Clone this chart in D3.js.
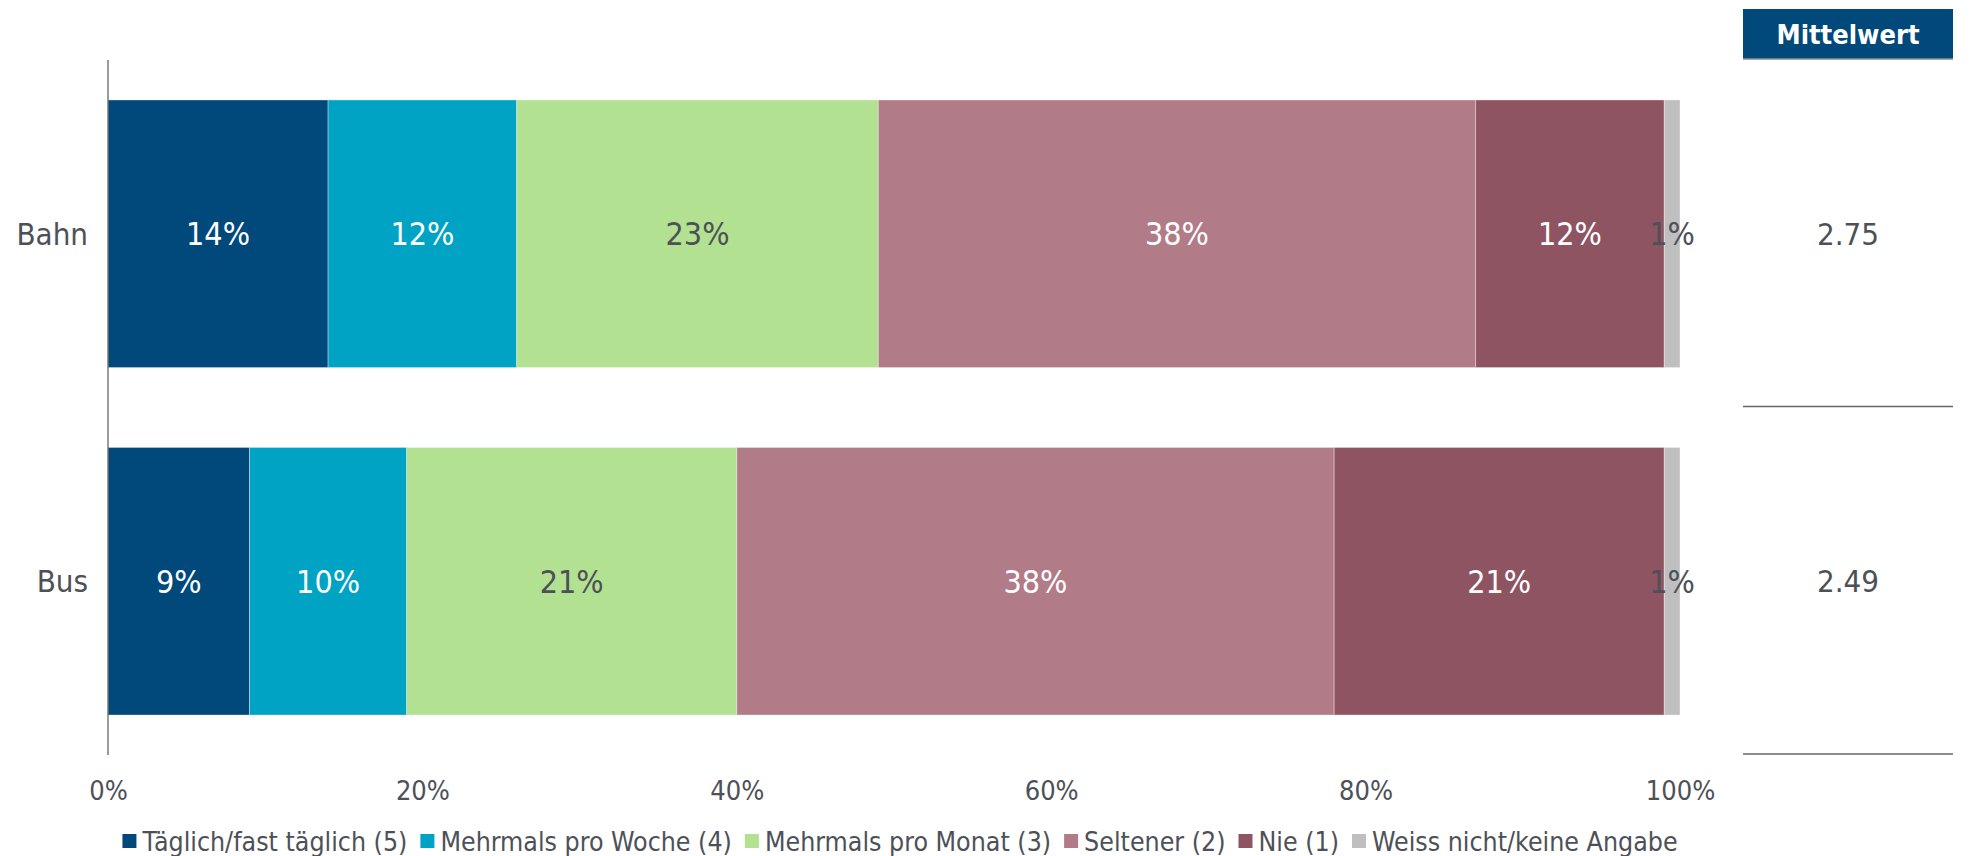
<!DOCTYPE html>
<html>
<head>
<meta charset="utf-8">
<script src="https://cdn.jsdelivr.net/npm/d3@7"></script>
<style>
  body { margin: 0; background: #fff; }
  svg text { font-family: "DejaVu Sans Condensed", "DejaVu Sans", sans-serif; font-stretch: condensed; }
</style>
</head>
<body>
<div id="chart"></div>
<script>
// data
const categories = ["Bahn", "Bus"]
const seriesNames = ["Täglich/fast täglich (5)", "Mehrmals pro Woche (4)", "Mehrmals pro Monat (3)", "Seltener (2)", "Nie (1)", "Weiss nicht/keine Angabe"]
const bahnValues = [14, 12, 23, 38, 12, 1]
const busValues = [9, 10, 21, 38, 21, 1]
const meanValues = ["2.75", "2.49"]
const xTicks = [0, 20, 40, 60, 80, 100]

const colors = ["#00497a", "#00a3c4", "#b2e192", "#b17c88", "#8f5462", "#bfbfbf"]
const labelColors = ["#fff", "#fff", "#4d5157", "#fff", "#fff", "#4d5157"]
const textGray = "#4d5157"

const width = 1975, height = 856

const svg = d3.select("#chart")
  .append("svg")
    .attr("width", width)
    .attr("height", height)

// build rows for the stack
const rows = categories.map((c, i) => {
  const vals = i === 0 ? bahnValues : busValues
  let row = {cat: c}
  seriesNames.forEach((s, j) => { row[s] = vals[j] })
  return row
})

const stack = d3.stack().keys(seriesNames)
const stacked = stack(rows)

const x = d3.scaleLinear()
    .domain([0, 100])
    .range([108, 1680])

const y = d3.scaleBand()
    .domain(categories)
    .range([60, 755])
    .paddingInner(0.23)
    .paddingOuter(0.115)

// bars
const layer = svg.append("g")
  .selectAll("g")
  .data(stacked)
  .join("g")
    .attr("fill", (d, i) => colors[i])

layer.selectAll("rect")
  .data(d => d)
  .join("rect")
    .attr("x", d => x(d[0]))
    .attr("y", d => y(d.data.cat))
    .attr("width", d => x(d[1]) - x(d[0]))
    .attr("height", y.bandwidth())
    .attr("stroke", "#ffffff")
    .attr("stroke-opacity", 0.35)
    .attr("stroke-width", 1)

// segment labels
stacked.forEach((s, i) => {
  svg.append("g")
    .selectAll("text")
    .data(s)
    .join("text")
      .attr("x", d => (x(d[0]) + x(d[1])) / 2)
      .attr("y", d => y(d.data.cat) + y.bandwidth() / 2)
      .attr("dy", "0.36em")
      .attr("text-anchor", "middle")
      .attr("fill", labelColors[i])
      .style("font-size", "32px")
      .text(d => (d[1] - d[0]) + "%")
})

// y axis line
svg.append("line")
  .attr("x1", x(0)).attr("x2", x(0))
  .attr("y1", 60).attr("y2", 755)
  .attr("stroke", "#666")
  .attr("stroke-width", 1.3)

// category labels
svg.append("g")
  .selectAll("text")
  .data(categories)
  .join("text")
    .attr("x", 88)
    .attr("y", d => y(d) + y.bandwidth() / 2)
    .attr("dy", "0.36em")
    .attr("text-anchor", "end")
    .attr("fill", textGray)
    .style("font-size", "31px")
    .text(d => d)

// x axis tick labels
const xAxis = d3.axisBottom(x)
  .tickValues(xTicks)
  .tickFormat(d => d + "%")
  .tickSize(0)
  .tickPadding(0)

const gx = svg.append("g")
  .attr("transform", "translate(0,790)")
  .call(xAxis)
gx.select(".domain").remove()
gx.selectAll("text")
  .attr("dy", "0.36em")
  .attr("fill", textGray)
  .style("font-size", "27px")
  .style("font-family", "\"DejaVu Sans Condensed\", \"DejaVu Sans\", sans-serif")

// Mittelwert column
const mx0 = 1743, mx1 = 1953, mcx = (mx0 + mx1) / 2
svg.append("rect")
  .attr("x", mx0).attr("y", 9)
  .attr("width", mx1 - mx0).attr("height", 50)
  .attr("fill", "#00497a")
svg.append("line")
  .attr("x1", mx0).attr("x2", mx1)
  .attr("y1", 59).attr("y2", 59)
  .attr("stroke", "#8a8f96").attr("stroke-width", 1.5)
svg.append("text")
  .attr("x", mcx).attr("y", 34)
  .attr("dy", "0.36em")
  .attr("text-anchor", "middle")
  .attr("fill", "#fff")
  .style("font-size", "27px")
  .style("font-weight", "bold")
  .text("Mittelwert")

svg.append("g")
  .selectAll("text")
  .data(categories)
  .join("text")
    .attr("x", mcx)
    .attr("y", d => y(d) + y.bandwidth() / 2)
    .attr("dy", "0.36em")
    .attr("text-anchor", "middle")
    .attr("fill", textGray)
    .style("font-size", "31px")
    .text((d, i) => meanValues[i])

// separator lines below each row (middle of the gap)
svg.append("g")
  .selectAll("line")
  .data(categories)
  .join("line")
    .attr("x1", mx0).attr("x2", mx1)
    .attr("y1", d => y(d) + y.bandwidth() + (y.step() - y.bandwidth()) / 2 - 1)
    .attr("y2", d => y(d) + y.bandwidth() + (y.step() - y.bandwidth()) / 2 - 1)
    .attr("stroke", "#666")
    .attr("stroke-width", 1.5)

// legend
const legend = svg.append("g").attr("transform", "translate(0,841)")
const items = legend.selectAll("g")
  .data(seriesNames)
  .join("g")
items.append("rect")
  .attr("y", -7).attr("width", 14).attr("height", 14)
  .attr("fill", (d, i) => colors[i])
items.append("text")
  .attr("x", 20)
  .attr("dy", "0.36em")
  .attr("fill", textGray)
  .style("font-size", "26.5px")
  .text(d => d)

let widths = []
items.each(function () { widths.push(d3.select(this).select("text").node().getComputedTextLength() + 20) })
const gap = 13
const total = d3.sum(widths) + gap * (widths.length - 1)
let cursor = 900 - total / 2
items.attr("transform", (d, i) => {
  const t = "translate(" + cursor + ",0)"
  cursor += widths[i] + gap
  return t
})
</script>
</body>
</html>
